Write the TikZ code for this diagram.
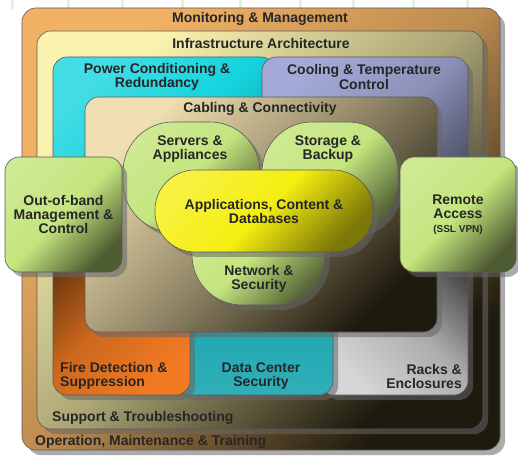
\documentclass[tikz,border=0pt]{standalone}
\usepackage{fontspec}
\setmainfont{Liberation Sans}
\usepackage{xcolor}
\usepackage{tikz}
\usetikzlibrary{positioning,shadows}

\definecolor{mmorange}{HTML}{F2B266}
\definecolor{infrayellow}{HTML}{FAF3B0}
\definecolor{powercyan}{HTML}{14D4DE}
\definecolor{coolslate}{HTML}{A4AAD8}
\definecolor{cabletan}{HTML}{F0DFB0}
\definecolor{boxgreen}{HTML}{C4E57E}
\definecolor{appyellow}{HTML}{F5EE10}
\definecolor{fireorange}{HTML}{F27A22}
\definecolor{secteal}{HTML}{1AA6B0}
\definecolor{rackgray}{HTML}{D6D6D6}
\definecolor{darkcorner}{HTML}{1E1A0E}
\definecolor{gridgreen}{HTML}{E2F2DE}

\begin{document}
\begin{tikzpicture}[x=1pt, y=1pt,
    layer/.style={draw=black!65, line width=0.6pt, rounded corners=14pt, inner sep=0pt,
        drop shadow={shadow xshift=5pt, shadow yshift=-5pt, fill=black!60, opacity=.55}},
    paint/.style n args={4}{top color=#1, bottom color=#3, middle color=#2, shading angle=#4},
    lbl/.style={font=\fontsize{14}{14}\selectfont\bfseries, align=center, text=black!85, inner sep=1pt}]
    \useasboundingbox (0,0) rectangle (518,455);

    % grid paper behind
    \foreach \gx in {12,68,122,182,240,300,353,413,467}
        \draw [gridgreen, line width=3pt] (\gx,455) -- (\gx,445);

    \node [layer, minimum width=478, minimum height=442, paint={mmorange}{mmorange!75!darkcorner}{darkcorner}{45}] (mm) at (261,226) {};
    \node [layer, minimum width=446, minimum height=398, paint={infrayellow}{infrayellow!65!darkcorner}{darkcorner}{45}] (infra) at (260,225) {};

    \node [layer, minimum width=222, minimum height=183, paint={powercyan!80!white}{powercyan}{powercyan!70!black}{45}] (power) at (164,306.5) {};
    \node [layer, minimum width=206, minimum height=183, paint={coolslate}{coolslate!85!black}{coolslate!40!black}{45}] (cooling) at (365,306.5) {};

    \node [layer, minimum width=148, minimum height=180, paint={rackgray!25!black}{rackgray!80!black}{rackgray}{-45}] (racks) at (394,150) {};
    \node [layer, minimum width=158, minimum height=180, paint={secteal!45!black}{secteal}{secteal!90!white}{0}] (data) at (254,150) {};
    \node [layer, minimum width=137, minimum height=180, paint={fireorange!40!black}{fireorange!85!black}{fireorange}{45}] (fire) at (121.5,150) {};

    \node [layer, minimum width=352, minimum height=235, paint={cabletan}{cabletan!55!darkcorner}{darkcorner}{45}] (cabling) at (261,240.5) {};

    % core
    \node [layer, rounded corners=50pt, minimum width=137, minimum height=110, paint={boxgreen!85!white}{boxgreen}{boxgreen!45!black}{45}] (servers) at (191.5,278) {};
    \node [layer, rounded corners=50pt, minimum width=136, minimum height=110, paint={boxgreen!85!white}{boxgreen}{boxgreen!45!black}{45}] (storage) at (330,278) {};
    \node [layer, rounded corners=50pt, minimum width=133, minimum height=110, paint={boxgreen!85!white}{boxgreen}{boxgreen!45!black}{45}] (network) at (258.5,205) {};
    \node [layer, lbl, rounded corners=40pt, minimum width=218, minimum height=82, paint={appyellow!80!white}{appyellow}{appyellow!50!black}{45}] (apps) at (264,244) {Applications, Content \&\\Databases};

    \node [layer, lbl, minimum width=117, minimum height=115, paint={boxgreen!85!white}{boxgreen}{boxgreen!40!black}{45}] (oob) at (63.5,240.5) {Out-of-band\\Management \&\\Control};
    \node [layer, lbl, minimum width=116, minimum height=115, paint={boxgreen!85!white}{boxgreen}{boxgreen!40!black}{45}] (remote) at (458,240.5) {Remote\\Access\\{\fontsize{10}{12}\selectfont(SSL VPN)}};

    % labels
    \node [lbl] (mmtitle) at (260,436) {Monitoring \& Management};
    \node [lbl] (infratitle) at (261,411) {Infrastructure Architecture};
    \node [lbl] (powertxt) at (157,378) {Power Conditioning \&\\Redundancy};
    \node [lbl] (cooltxt) at (364,378) {Cooling \& Temperature\\Control};
    \node [lbl] (cabletxt) at (260,346) {Cabling \& Connectivity};
    \node [lbl] (servtxt) at (190,306) {Servers \&\\Appliances};
    \node [lbl] (stortxt) at (328,306) {Storage \&\\Backup};
    \node [lbl] (nettxt) at (259,176) {Network \&\\Security};
    \node [lbl, anchor=west, align=left] (firetxt) at (59,79) {Fire Detection \&\\Suppression};
    \node [lbl] (datatxt) at (261,79) {Data Center\\Security};
    \node [lbl, anchor=east, align=right] (rackstxt) at (463,79) {Racks \&\\Enclosures};
    \node [lbl, anchor=west] (supporttxt) at (51,37) {Support \& Troubleshooting};
    \node [lbl, anchor=west] (optxt) at (34,13) {Operation, Maintenance \& Training};
\end{tikzpicture}
\end{document}
